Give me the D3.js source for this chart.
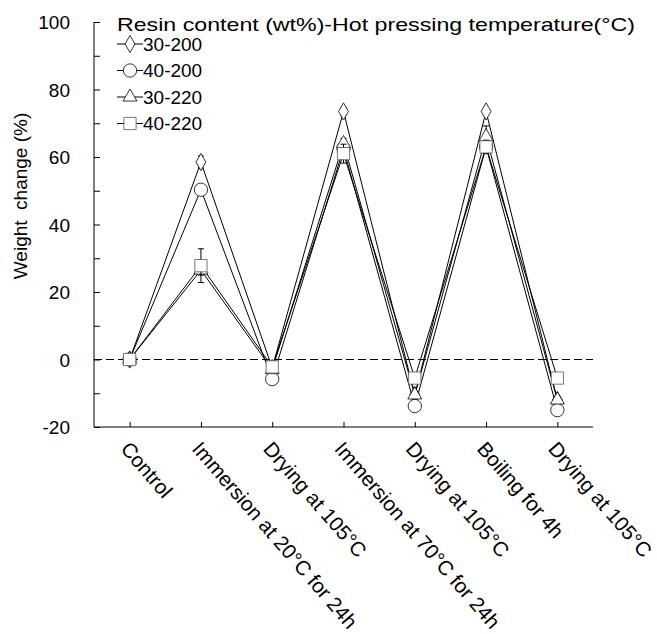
<!DOCTYPE html>
<html>
<head>
<meta charset="utf-8">
<script src="https://cdn.jsdelivr.net/npm/d3@7"></script>
<style>
  body { margin: 0; background: #fff; }
  text { font-family: "Liberation Sans", Arial, sans-serif; fill: #000; }
</style>
</head>
<body>
<svg id="chart" width="657" height="634"></svg>
<script>
// data
var stages = ["Control", "Immersion at 20°C for 24h", "Drying at 105°C",
  "Immersion at 70°C for 24h", "Drying at 105°C", "Boiling for 4h", "Drying at 105°C"];
var seriesNames = ["30-200", "40-200", "30-220", "40-220"];
var w30_200 = [0, 58.5, -2.5, 73.5, -10.5, 73.5, -12];
var w40_200 = [0, 50.3, -5.8, 62.5, -13.8, 63, -15];
var w30_220 = [0, 26.5, -3, 64, -10.5, 66, -12];
var w40_220 = [0, 27.8, -2.2, 61, -5.5, 63, -5.5];
var e30_200 = [0, 1.8, 0.5, 1.2, 0.5, 0.6, 0.5];
var e40_200 = [0, 1, 0.5, 1, 0.5, 0.6, 0.5];
var e30_220 = [0, 1.5, 0.5, 1.5, 0.5, 3.2, 0.5];
var e40_220 = [0, 5, 0.5, 2.8, 0.5, 2, 0.5];
var yTicks = [-20, 0, 20, 40, 60, 80, 100];

var values = [w30_200, w40_200, w30_220, w40_220];
var errors = [e30_200, e40_200, e30_220, e40_220];
var symbols = [d3.symbolDiamond, d3.symbolCircle, d3.symbolTriangle, d3.symbolSquare];
var symSize = [85, 140, 85, 150];

var svg = d3.select("#chart");
var mLeft = 94, mRight = 593, mTop = 22, mBottom = 427;

var x = d3.scalePoint().domain(d3.range(stages.length)).range([mLeft, mRight]).padding(0.5);
var y = d3.scaleLinear().domain([-20, 100]).range([mBottom, mTop]);

// y axis
var yAxis = d3.axisLeft(y).tickValues(d3.range(-20, 101, 10)).tickSize(-6).tickPadding(24)
  .tickFormat(function(d){ return yTicks.indexOf(d) >= 0 ? d : ""; });
var gy = svg.append("g").attr("transform", "translate(" + mLeft + ",0)").call(yAxis);
gy.select(".domain").attr("d", "M0," + mTop + "V" + mBottom).attr("stroke", "#000");
gy.selectAll(".tick line").attr("stroke", "#000");
gy.selectAll("text").style("font-size", "19px").attr("dy", "0.36em");

// x axis
var xAxis = d3.axisBottom(x).tickSize(-5).tickFormat("");
var gx = svg.append("g").attr("transform", "translate(0," + mBottom + ")").call(xAxis);
gx.select(".domain").attr("d", "M" + mLeft + ",0H" + mRight).attr("stroke", "#000");
gx.selectAll(".tick line").attr("stroke", "#000");

svg.append("g").selectAll("text").data(stages).enter().append("text")
  .attr("transform", function(d, i){ return "translate(" + (x(i) + 1) + "," + (mBottom + 13) + ") rotate(49)"; })
  .attr("dy", "0.71em")
  .style("font-size", "20.5px")
  .text(function(d){ return d; });

// zero line
svg.append("line").attr("x1", mLeft).attr("x2", mRight).attr("y1", y(0)).attr("y2", y(0))
  .attr("stroke", "#000").attr("stroke-dasharray", "8,4");

// axis title
svg.append("text")
  .attr("transform", "translate(27,196) rotate(-90)")
  .attr("text-anchor", "middle")
  .style("font-size", "19px").style("white-space", "pre")
  .text("Weight  change (%)");

var line = d3.line().x(function(d, i){ return x(i); }).y(function(d){ return y(d); });

// lines first
values.forEach(function(v){
  svg.append("path").datum(v).attr("d", line).attr("fill", "none").attr("stroke", "#000").attr("stroke-width", 1);
});

// error bars and markers
values.forEach(function(v, k){
  var g = svg.append("g");
  v.forEach(function(val, i){
    var e = errors[k][i];
    if (e > 0) {
      g.append("line").attr("x1", x(i)).attr("x2", x(i)).attr("y1", y(val - e)).attr("y2", y(val + e)).attr("stroke", "#000");
      [val - e, val + e].forEach(function(c){
        g.append("line").attr("x1", x(i) - 3).attr("x2", x(i) + 3).attr("y1", y(c)).attr("y2", y(c)).attr("stroke", "#000");
      });
    }
  });
  g.selectAll("path").data(v).enter().append("path")
    .attr("d", d3.symbol().type(symbols[k]).size(symSize[k]))
    .attr("transform", function(d, i){ return "translate(" + x(i) + "," + y(d) + ")"; })
    .attr("fill", "#fff").attr("stroke", k == 3 ? "#555" : "#000").attr("stroke-width", 0.8);
});

// legend
svg.append("text").attr("x", 117).attr("y", 31).style("font-size", "19px")
  .attr("textLength", 518).attr("lengthAdjust", "spacingAndGlyphs")
  .text("Resin content (wt%)-Hot pressing temperature(°C)");
seriesNames.forEach(function(name, k){
  var ly = 44 + k * 26.5;
  svg.append("line").attr("x1", 117).attr("x2", 143).attr("y1", ly).attr("y2", ly).attr("stroke", "#000");
  svg.append("path").attr("d", d3.symbol().type(symbols[k]).size(symSize[k]))
    .attr("transform", "translate(130," + ly + ")")
    .attr("fill", "#fff").attr("stroke", k == 3 ? "#555" : "#000").attr("stroke-width", 0.8);
  svg.append("text").attr("x", 143).attr("y", ly).attr("dy", "0.36em").style("font-size", "19px").text(name);
});
</script>
</body>
</html>
